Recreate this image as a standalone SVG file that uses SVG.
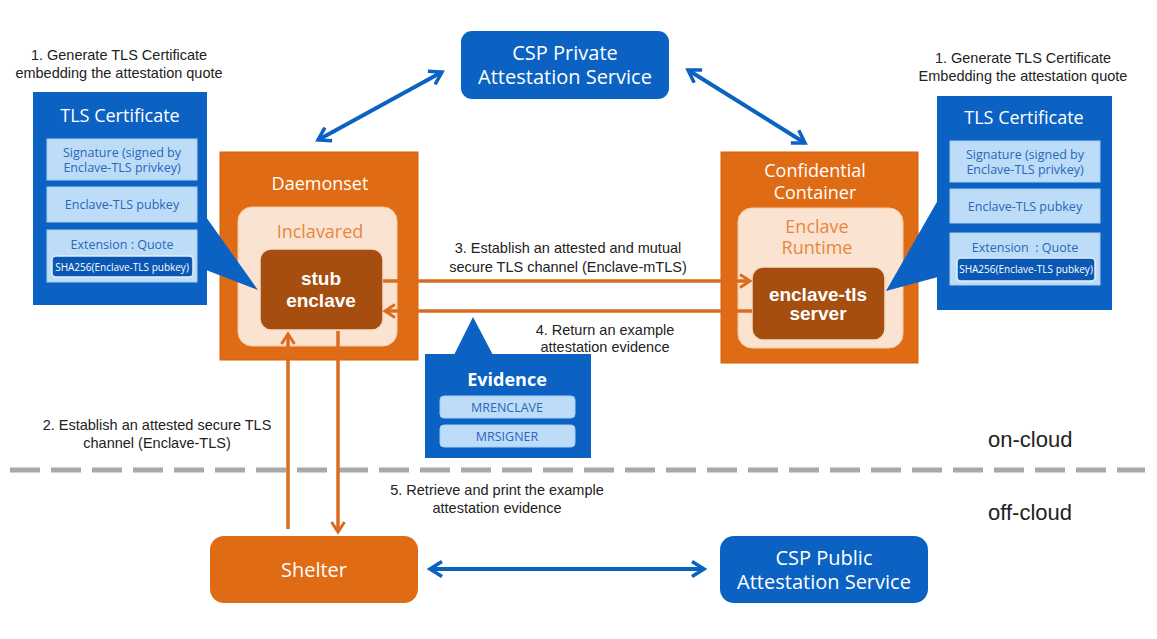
<svg xmlns="http://www.w3.org/2000/svg" width="1157" height="639" viewBox="0 0 1157 639">
<defs>
<style>
.bl{fill:#0b62c3}
.lb{fill:#bddcf8;stroke:#a6cdf2;stroke-width:1}
.sha{fill:#0a58b4;stroke:#e4eef8;stroke-width:1.5}
.org{fill:#e06b15}
.pch{fill:#fbe3d1;stroke:#f5cba9;stroke-width:1}
.brn{fill:#a54e0f;stroke:#f6dcc7;stroke-width:1.5}
.lbl{font-family:"Liberation Sans",Arial,sans-serif;font-size:14.5px;fill:#222;text-anchor:middle}
.cloud{font-family:"Liberation Sans",Arial,sans-serif;font-size:22px;fill:#222}
.bt{font-family:"Open Sans","Noto Sans",sans-serif;fill:#fff;text-anchor:middle}
.st{font-family:"Open Sans","Noto Sans",sans-serif;fill:#2a67b8;text-anchor:middle;font-size:12.5px}
.ot{font-family:"Open Sans","Noto Sans",sans-serif;fill:#e9863f;text-anchor:middle;font-size:18px}
.bold{font-family:"Liberation Sans",Arial,sans-serif;font-weight:bold;fill:#fff;text-anchor:middle;font-size:19px}
.oa{stroke:#dd6b1f;stroke-width:3.5;fill:none}
.ba{stroke:#0b62c3;stroke-width:4;fill:none}
</style>
<marker id="mo" viewBox="0 0 16 16" refX="13" refY="8" markerWidth="16" markerHeight="16" orient="auto-start-reverse" markerUnits="userSpaceOnUse"><path d="M3,1.5 L13,8 L3,14.5" fill="none" stroke="#dd6b1f" stroke-width="3"/></marker>
<marker id="mb" viewBox="0 0 18 18" refX="15" refY="9" markerWidth="18" markerHeight="18" orient="auto-start-reverse" markerUnits="userSpaceOnUse"><path d="M3,1.5 L15,9 L3,16.5" fill="none" stroke="#0b62c3" stroke-width="3.5"/></marker>
</defs>
<rect width="1157" height="639" fill="#fff"/>

<!-- divider -->
<line x1="10" y1="470" x2="1145" y2="470" stroke="#a9a9a9" stroke-width="5" stroke-dasharray="30,11"/>
<text class="cloud" x="988" y="447">on-cloud</text>
<text class="cloud" x="988" y="520">off-cloud</text>

<!-- labels -->
<g id="labels">
<text class="lbl" x="119" y="60">1. Generate TLS Certificate</text>
<text class="lbl" x="119" y="78">embedding the attestation quote</text>
<text class="lbl" x="1023" y="63">1. Generate TLS Certificate</text>
<text class="lbl" x="1023" y="81">Embedding the attestation quote</text>
<text class="lbl" x="568" y="253">3. Establish an attested and mutual</text>
<text class="lbl" x="568" y="272">secure TLS channel (Enclave-mTLS)</text>
<text class="lbl" x="605" y="335">4. Return an example</text>
<text class="lbl" x="605" y="352">attestation evidence</text>
<text class="lbl" x="157" y="430">2. Establish an attested secure TLS</text>
<text class="lbl" x="157" y="448">channel (Enclave-TLS)</text>
<text class="lbl" x="497" y="495">5. Retrieve and print the example</text>
<text class="lbl" x="497" y="513">attestation evidence</text>
</g>

<!-- CSP Private -->
<g id="csp-private">
<rect class="bl" x="461" y="31" width="208" height="68" rx="11"/>
<text class="bt" x="565" y="60" font-size="20">CSP Private</text>
<text class="bt" x="565" y="84" font-size="20">Attestation Service</text>
</g>

<!-- Daemonset -->
<g id="daemonset">
<rect class="org" x="220" y="152" width="198" height="208" stroke="#d4600e"/>
<text class="bt" x="320" y="190" font-size="18">Daemonset</text>
<rect class="pch" x="238" y="207" width="159" height="139" rx="14"/>
<text class="ot" x="320" y="238">Inclavared</text>
</g>
<g id="stub-enclave">
<rect class="brn" x="260" y="249" width="123" height="81" rx="11"/>
<text class="bold" x="321" y="285">stub</text>
<text class="bold" x="321" y="307">enclave</text>
</g>

<!-- Confidential Container -->
<g id="confidential-container">
<rect class="org" x="721" y="152" width="197" height="211" stroke="#d4600e"/>
<text class="bt" x="815" y="177" font-size="18">Confidential</text>
<text class="bt" x="815" y="199" font-size="18">Container</text>
<rect class="pch" x="738" y="208" width="165" height="140" rx="14"/>
<text class="ot" x="817" y="233">Enclave</text>
<text class="ot" x="817" y="254">Runtime</text>
</g>
<g id="enclave-tls-server">
<rect class="brn" x="752" y="267" width="133" height="73" rx="11"/>
<text class="bold" x="818" y="301">enclave-tls</text>
<text class="bold" x="818" y="320">server</text>
</g>

<!-- Left TLS cert -->
<g id="tls-cert-left">
<polygon class="bl" points="206,217 258,290 206,270"/>
<rect class="bl" x="33" y="92" width="174" height="213"/>
<text class="bt" x="120" y="122" font-size="18">TLS Certificate</text>
<rect class="lb" x="47" y="139" width="150" height="41"/>
<text class="st" x="122" y="157">Signature (signed by</text>
<text class="st" x="122" y="172">Enclave-TLS privkey)</text>
<rect class="lb" x="47" y="187" width="150" height="35"/>
<text class="st" x="122" y="209">Enclave-TLS pubkey</text>
<rect class="lb" x="47" y="230" width="150" height="52"/>
<text class="st" x="122" y="249">Extension : Quote</text>
<rect class="sha" x="52" y="256" width="141" height="21" rx="4"/>
<text class="bt" x="122" y="271" font-size="10">SHA256(Enclave-TLS pubkey)</text>
</g>

<!-- Right TLS cert -->
<g id="tls-cert-right">
<polygon class="bl" points="938,200 886,291 938,277"/>
<rect class="bl" x="937" y="96" width="175" height="214"/>
<text class="bt" x="1024" y="124" font-size="18">TLS Certificate</text>
<rect class="lb" x="950" y="141" width="150" height="41"/>
<text class="st" x="1025" y="159">Signature (signed by</text>
<text class="st" x="1025" y="174">Enclave-TLS privkey)</text>
<rect class="lb" x="950" y="189" width="150" height="34"/>
<text class="st" x="1025" y="211">Enclave-TLS pubkey</text>
<rect class="lb" x="950" y="233" width="150" height="52"/>
<text class="st" x="1025" y="252" xml:space="preserve">Extension  : Quote</text>
<rect class="sha" x="957" y="258" width="138" height="23" rx="4"/>
<text class="bt" x="1026" y="273" font-size="10">SHA256(Enclave-TLS pubkey)</text>
</g>

<!-- Evidence -->
<g id="evidence">
<polygon class="bl" points="453,357 473,317 494,357"/>
<rect class="bl" x="425" y="354" width="166" height="104"/>
<text class="bt" x="507" y="386" font-size="18" font-weight="bold">Evidence</text>
<rect class="lb" x="440" y="396" width="135" height="22" rx="4"/>
<text class="st" x="507" y="412">MRENCLAVE</text>
<rect class="lb" x="440" y="425" width="135" height="22" rx="4"/>
<text class="st" x="507" y="441">MRSIGNER</text>
</g>

<!-- Shelter -->
<g id="shelter">
<rect class="org" x="210" y="536" width="208" height="67" rx="14"/>
<text class="bt" x="314" y="577" font-size="20">Shelter</text>
</g>

<!-- CSP Public -->
<g id="csp-public">
<rect class="bl" x="720" y="536" width="208" height="67" rx="14"/>
<text class="bt" x="824" y="565" font-size="20">CSP Public</text>
<text class="bt" x="824" y="589" font-size="20">Attestation Service</text>
</g>

<!-- connectors -->
<g id="connectors">
<line class="ba" x1="318" y1="140" x2="442" y2="72" marker-start="url(#mb)" marker-end="url(#mb)"/>
<line class="ba" x1="688" y1="70" x2="805" y2="143" marker-start="url(#mb)" marker-end="url(#mb)"/>
<line class="ba" x1="430" y1="569" x2="704" y2="569" marker-start="url(#mb)" marker-end="url(#mb)"/>
<line class="oa" x1="383" y1="281" x2="750" y2="281" marker-end="url(#mo)"/>
<line class="oa" x1="752" y1="311" x2="385" y2="311" marker-end="url(#mo)"/>
<line class="oa" x1="288" y1="529" x2="288" y2="334" marker-end="url(#mo)"/>
<line class="oa" x1="338" y1="331" x2="338" y2="532" marker-end="url(#mo)"/>
</g>
</svg>
